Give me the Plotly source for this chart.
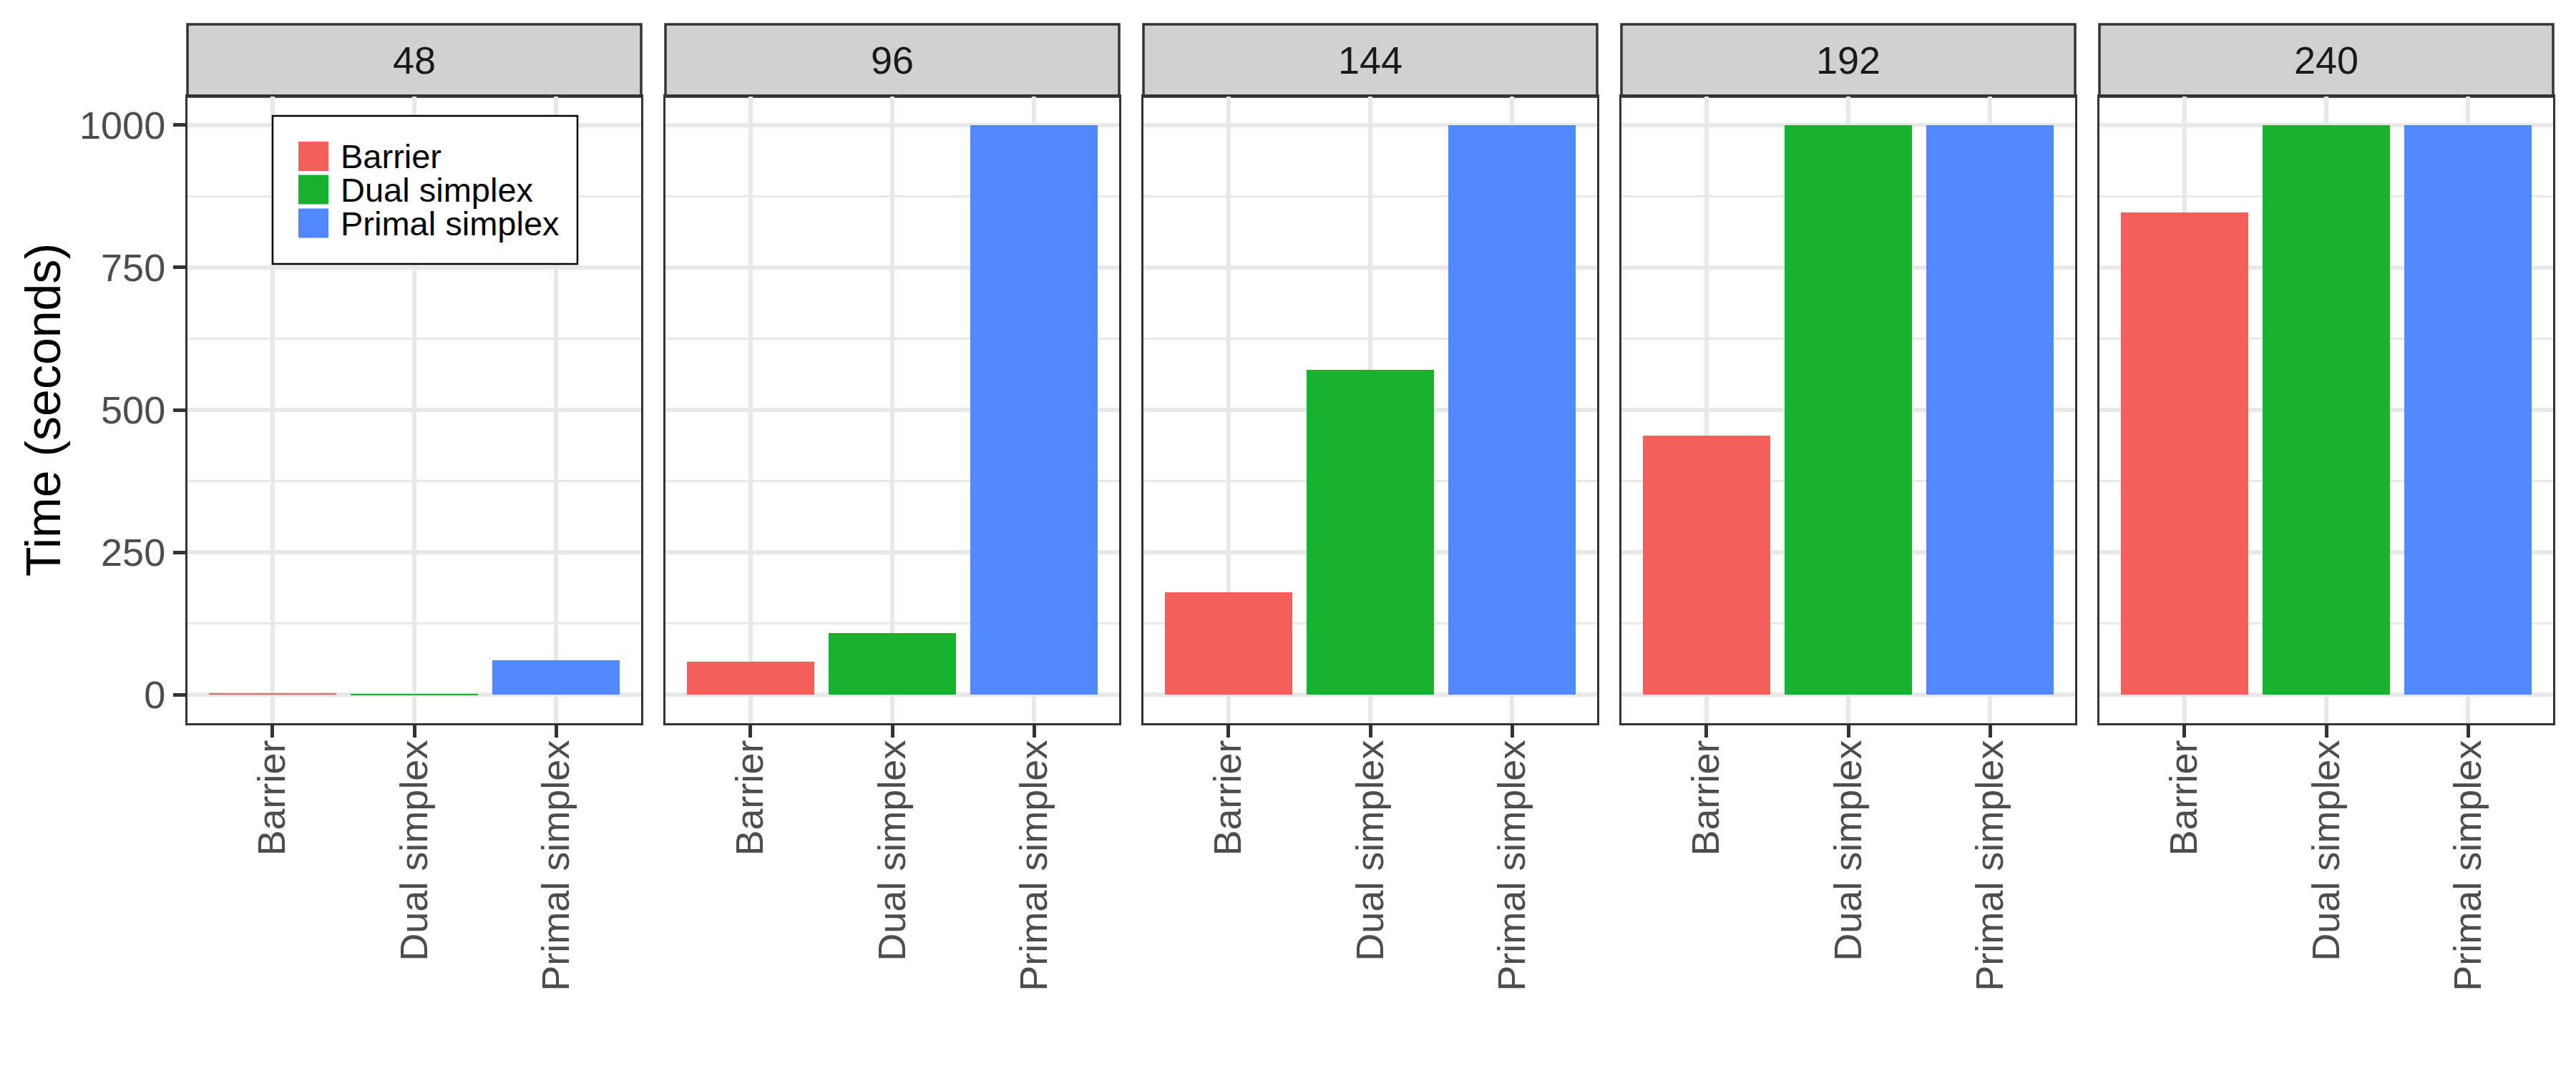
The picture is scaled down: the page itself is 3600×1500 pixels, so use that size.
import plotly.graph_objects as go

# ---------------- data ----------------
panels = ["48", "96", "144", "192", "240"]
methods = ["Barrier", "Dual simplex", "Primal simplex"]
barrier = [3.3, 58, 180, 455, 846]
dual = [2.0, 108, 570, 1000, 1000]
primal = [61, 1000, 1000, 1000, 1000]
method_colors = ["#F35F5B", "#19B22F", "#5088FF"]
y_ticks = [0, 250, 500, 750, 1000]
y_title = "Time (seconds)"

# ---------------- layout geometry ----------------
W, H = 3600, 1500
OFF = 8  # page body offset compensation
ML, MR, MT, MB = 262 - OFF, 32 + OFF, 34 - OFF, 489 + OFF
PW = W - ML - MR
PH = H - MT - MB
panel_w, gap = 634, 34
strip_h = 101
plot_top = 1 - strip_h / PH

FONT = "Liberation Sans, Arial, Helvetica, sans-serif"
GRID = "#E8E8E8"
DARK = "#333333"
TICK_SIZE = 54

fig = go.Figure()
shapes = []
annotations = []

for i, p in enumerate(panels):
    n = "" if i == 0 else str(i + 1)
    vals = [barrier[i], dual[i], primal[i]]
    fig.add_trace(go.Bar(
        x=methods, y=vals, width=0.9,
        marker=dict(color=method_colors, line=dict(width=0)),
        name=p, showlegend=False,
        xaxis="x" + n, yaxis="y" + n,
    ))
    x0 = i * (panel_w + gap) / PW
    x1 = (i * (panel_w + gap) + panel_w) / PW
    xa = dict(
        domain=[x0, x1], anchor="y" + n, type="category",
        categoryorder="array", categoryarray=methods, range=[-0.6, 2.6],
        showgrid=True, gridcolor=GRID, gridwidth=6,
        ticks="outside", ticklen=17, tickwidth=5, tickcolor=DARK,
        tickangle=-90, tickfont=dict(size=TICK_SIZE, color="#4D4D4D", family=FONT),
        ticklabelstandoff=-18,
        showline=True, mirror=True, linecolor=DARK, linewidth=3,
        zeroline=False, automargin=False,
    )
    ya = dict(
        domain=[0, plot_top], anchor="x" + n, range=[-50, 1050],
        tickvals=y_ticks, showgrid=True, gridcolor=GRID, gridwidth=6,
        minor=dict(dtick=125, tick0=0, showgrid=True, gridcolor=GRID, gridwidth=3, ticks=""),
        zeroline=False, showline=True, mirror=True, linecolor=DARK, linewidth=3,
        automargin=False,
    )
    if i == 0:
        ya.update(ticks="outside", ticklen=17, tickwidth=5, tickcolor=DARK,
                  tickfont=dict(size=TICK_SIZE, color="#4D4D4D", family=FONT),
                  title=dict(text=y_title, font=dict(size=68, color="black", family=FONT),
                             standoff=5))
    else:
        ya.update(showticklabels=False, ticks="", matches="y")
    fig.update_layout({"xaxis" + n: xa, "yaxis" + n: ya})

    # strip
    shapes.append(dict(type="rect", xref="x" + n + " domain", yref="paper",
                       x0=0, x1=1, y0=plot_top, y1=1,
                       fillcolor="#D1D1D1", line=dict(color=DARK, width=3.5), layer="below"))
    annotations.append(dict(text=p, xref="x" + n + " domain", yref="paper",
                            x=0.5, y=(plot_top + 1) / 2, showarrow=False,
                            xanchor="center", yanchor="middle",
                            font=dict(size=TICK_SIZE, color="#1A1A1A", family=FONT)))

# custom legend (inside first panel)
def px_x(v):
    return (v - OFF - ML) / PW

def px_y(v):
    return (H - MB - (v - OFF)) / PH

shapes.append(dict(type="rect", xref="paper", yref="paper",
                   x0=px_x(381), x1=px_x(807), y0=px_y(369), y1=px_y(162),
                   fillcolor="white", line=dict(color="black", width=2.5), layer="above"))
key_centers = [218.5, 265, 312]
for m, c, yc in zip(methods, method_colors, key_centers):
    shapes.append(dict(type="rect", xref="paper", yref="paper",
                       x0=px_x(417), x1=px_x(459), y0=px_y(yc + 20.5), y1=px_y(yc - 20.5),
                       fillcolor=c, line=dict(width=0), layer="above"))
    annotations.append(dict(text=m, xref="paper", yref="paper",
                            x=px_x(474), y=px_y(yc), showarrow=False,
                            xanchor="left", yanchor="middle",
                            font=dict(size=47, color="black", family=FONT)))

fig.update_layout(
    width=W, height=H,
    margin=dict(l=ML, r=MR, t=MT, b=MB, autoexpand=False),
    paper_bgcolor="white", plot_bgcolor="white",
    barmode="overlay", bargap=0,
    shapes=shapes, annotations=annotations,
    font=dict(family=FONT),
    showlegend=False,
)

fig.write_html("out.html")
